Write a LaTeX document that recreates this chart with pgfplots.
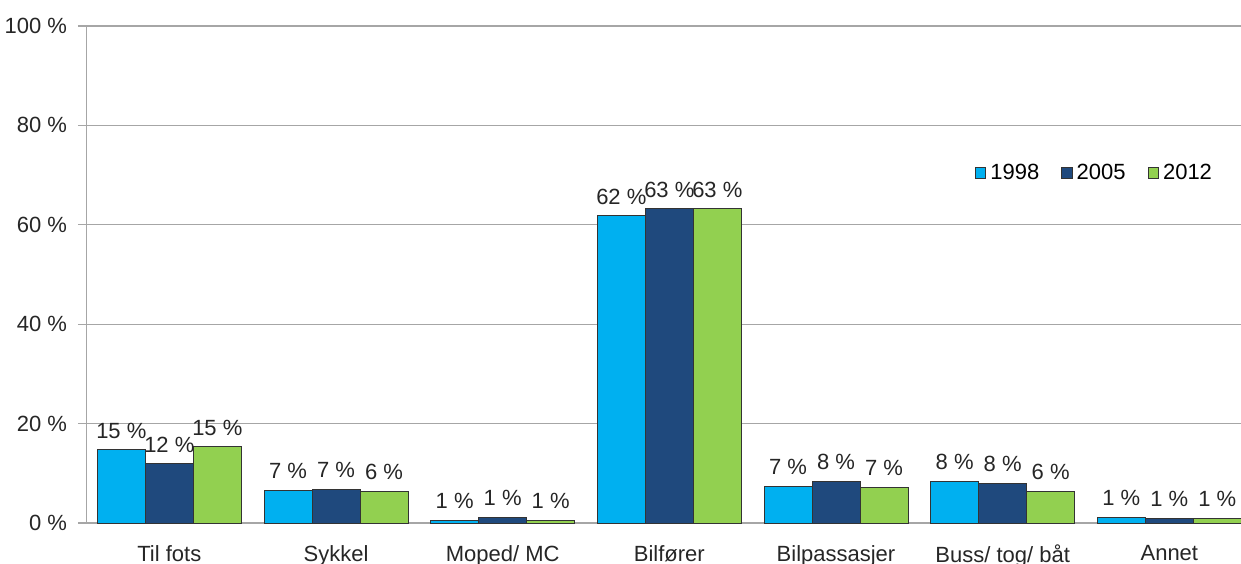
\documentclass[border=0pt]{standalone}
\usepackage{fontspec}
\setmainfont{Liberation Sans}
\usepackage{pgfplots}
\pgfplotsset{compat=1.18}

\definecolor{c98}{HTML}{00B0F0}
\definecolor{c05}{HTML}{1F497D}
\definecolor{c12}{HTML}{92D050}
\definecolor{gridgray}{HTML}{A6A6A6}

\pgfplotstableread{
x  y98   y05   y12
0  14.7  11.9  15.3
1  6.6   6.8   6.4
2  0.6   1.2   0.6
3  61.8  63.2  63.2
4  7.4   8.4   7.2
5  8.4   8.0   6.4
6  1.2   1.0   1.0
}\modes

\begin{document}
\begin{tikzpicture}
\begin{axis}[
  scale only axis,
  width=577.5pt, height=248.5pt,
  ybar=0pt, bar width=0.288,
  xmin=-0.5, xmax=6.43,
  ymin=0, ymax=100,
  clip=true,
  axis x line*=bottom, axis y line*=left,
  axis line style={gridgray, -},
  xtick=data,
  xticklabels={Til fots, Sykkel, Moped/ MC, Bilfører, Bilpassasjer, Buss/ tog/ båt, Annet},
  x tick style={draw=none},
  ytick={0,20,...,100},
  ymajorgrids, grid style={gridgray, line width=0.6pt},
  y tick style={gridgray, line width=0.6pt},
  tick align=outside, major tick length=4pt,
  /pgf/number format/assume math mode=true,
  yticklabel={\pgfmathprintnumber{\tick} \%},
  ticklabel style={font=\fontsize{11}{13}\selectfont, text=black!85},
  yticklabel style={xshift=-2pt},
  xticklabel style={yshift=-3.5pt},
  nodes near coords={\pgfmathprintnumber[fixed,precision=0]{\pgfplotspointmeta} \%},
  every node near coord/.append style={font=\fontsize{11}{13}\selectfont, text=black!85, yshift=2pt},
  legend style={at={(0.874,0.704)}, anchor=center, draw=none, fill=none,
    legend columns=3, font=\fontsize{11}{13}\selectfont,
    /tikz/every even column/.append style={column sep=9pt}},
  legend image code/.code={\draw[#1] (0pt,-2.6pt) rectangle (5.2pt,2.6pt);},
]
\addplot[fill=c98, draw=black!80, line width=0.5pt] table[x=x, y=y98] {\modes};
\addplot[fill=c05, draw=black!80, line width=0.5pt] table[x=x, y=y05] {\modes};
\addplot[fill=c12, draw=black!80, line width=0.5pt] table[x=x, y=y12] {\modes};
\legend{1998, 2005, 2012}
\end{axis}
\pgfresetboundingbox
\path[use as bounding box] ([xshift=-43pt, yshift=-20pt]current axis.south west) rectangle ([yshift=13pt]current axis.north east);
\end{tikzpicture}
\end{document}
